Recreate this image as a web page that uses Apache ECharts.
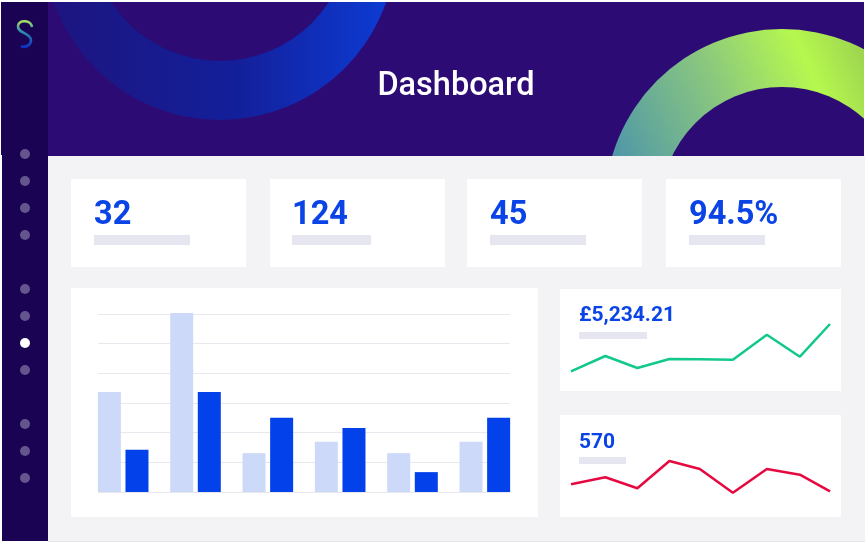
<!DOCTYPE html>
<html>
<head>
<meta charset="utf-8">
<title>Dashboard</title>
<script src="https://cdn.jsdelivr.net/npm/echarts@6/dist/echarts.min.js"></script>
<style>
html, body { margin: 0; padding: 0; background: #fff; }
#main { width: 865px; height: 542px; }
</style>
</head>
<body>
<div id="main"></div>
<script>
// chart data
var barCategories = ['A', 'B', 'C', 'D', 'E', 'F'];
var barLight = [33.7, 60.3, 13.1, 16.9, 13.1, 16.9];
var barDark = [14.2, 33.7, 25, 21.6, 6.7, 25];

var lineX = [0, 10.6, 20.5, 30.4, 39.8, 50, 60.5, 70.7, 80];
var lineGreen = [8.7, 24, 12, 21, 20.7, 20.3, 45.3, 23.3, 56];
var lineRed = [25.7, 32.7, 21.7, 49, 41, 17.3, 41, 35.3, 18.7];

var kpiLabels = ['32', '124', '45', '94.5%'];
var lineLabels = ['£5,234.21', '570'];
var titleText = 'Dashboard';
var dotRows = [154, 181, 208, 235, 289, 316, 343, 370, 424, 451, 478];
var activeDot = 343;

var FONT = 'Roboto, sans-serif';
var BLUE = '#0a43e6';
var BAR_GREY = '#e6e6f0';
var HEADER = '#2d0b75';

function rect(x, y, w, h, fill, z) {
	return { type: 'rect', silent: true, z: z, shape: { x: x, y: y, width: w, height: h }, style: { fill: fill } };
}

function circle(cx, cy, r, fill, z) {
	return { type: 'circle', silent: true, z: z, shape: { cx: cx, cy: cy, r: r }, style: { fill: fill } };
}

function label(text, x, y, size, weight, color, align) {
	return {
		type: 'text', silent: true, z: 1, x: x, y: y,
		style: { text: text, fill: color, font: weight + ' ' + size + 'px ' + FONT, textAlign: align || 'left', textVerticalAlign: 'middle' }
	};
}

// background pieces
var elements = [
	rect(48, 2, 816, 154, HEADER, -20)
];

// header arcs, each one is a circle with a header coloured hole
elements.push(circle(220, -56, 176, new echarts.graphic.LinearGradient(53, 0, 386, 0, [
	{ offset: 0, color: '#1d1580' },
	{ offset: 0.55, color: '#131f9a' },
	{ offset: 1, color: '#0d3bd2' }
], true), -19));
elements.push(circle(220, -69, 130, HEADER, -18));
elements.push(circle(782, 206, 177, new echarts.graphic.LinearGradient(620, 170, 864, 60, [
	{ offset: 0, color: '#4f97a8' },
	{ offset: 0.45, color: '#8ac77f' },
	{ offset: 0.8, color: '#b6f84e' },
	{ offset: 1, color: '#9ed650' }
], true), -19));
elements.push(circle(782, 209, 122, HEADER, -18));

// cover what spills out of the header
elements.push(rect(48, 156, 817, 385, '#f3f3f6', -17));
elements.push(rect(0, 0, 865, 2, '#ffffff', -17));
elements.push(rect(864, 0, 1, 156, '#ffffff', -17));

// sidebar
elements.push(rect(1, 2, 47, 153, '#1b0354', -16));
elements.push(rect(2, 155, 46, 386, '#1b0354', -16));
elements.push(rect(48, 541, 817, 1, '#e4e5ea', -16));

dotRows.forEach(function(y) {
	elements.push(circle(25, y, 5, y == activeDot ? '#ffffff' : '#65558e', -15));
});

// logo, three curve pieces sharing one gradient
var logoGradient = new echarts.graphic.LinearGradient(0, 20, 0, 48, [
	{ offset: 0, color: '#b6e85a' },
	{ offset: 0.4, color: '#2f8fb0' },
	{ offset: 1, color: '#0b2fc8' }
], true);
var logoCurves = [
	[32, 27, 31, 20, 19, 19, 18, 26],
	[18, 26, 17, 33, 31, 33, 31, 40],
	[31, 40, 31, 46, 24, 48, 21, 46]
];
logoCurves.forEach(function(c) {
	elements.push({
		type: 'bezierCurve', silent: true, z: -15,
		shape: { x1: c[0], y1: c[1], cpx1: c[2], cpy1: c[3], cpx2: c[4], cpy2: c[5], x2: c[6], y2: c[7] },
		style: { fill: 'none', stroke: logoGradient, lineWidth: 2.6 }
	});
});

// cards: card left, text left, grey bar width
var kpiCards = [[71, 94, 96], [270, 292, 79], [467, 490, 96], [666, 689, 76]];
kpiCards.forEach(function(c, i) {
	elements.push(rect(c[0], 179, 175, 88, '#ffffff', -14));
	elements.push(rect(c[1], 235, c[2], 10, BAR_GREY, -13));
	elements.push(label(kpiLabels[i], c[1], 216, 32.5, 700, BLUE));
});
elements.push(rect(71, 288, 467, 229, '#ffffff', -14));
elements.push(rect(560, 289, 281, 102, '#ffffff', -14));
elements.push(rect(560, 415, 281, 102, '#ffffff', -14));
elements.push(rect(579, 332, 68, 7, BAR_GREY, -13));
elements.push(rect(579, 457, 47, 7, BAR_GREY, -13));
elements.push(label(lineLabels[0], 579, 316, 21, 700, BLUE));
elements.push(label(lineLabels[1], 579, 443, 21, 700, BLUE));
elements.push(label(titleText, 456, 87, 32.5, 500, '#ffffff', 'center'));

function hiddenValueAxis(idx, min, max) {
	return { type: 'value', gridIndex: idx, min: min, max: max, show: false };
}

var option = {
	animation: false,
	graphic: { elements: elements },
	grid: [
		{ left: 87, width: 434, top: 314, height: 178 },   // bars
		{ left: 98, width: 412, top: 314, height: 178 },   // grid lines
		{ left: 571, width: 259, top: 320, height: 60 },   // green line
		{ left: 571, width: 259, top: 450, height: 60 }    // red line
	],
	xAxis: [
		{ type: 'category', gridIndex: 0, data: barCategories, show: false },
		{ type: 'value', gridIndex: 1, min: 0, max: 1, show: false },
		{ type: 'value', gridIndex: 2, min: 0, max: 80, show: false },
		{ type: 'value', gridIndex: 3, min: 0, max: 80, show: false }
	],
	yAxis: [
		hiddenValueAxis(0, 0, 60),
		{
			type: 'value', gridIndex: 1, min: 0, max: 60, interval: 10,
			axisLine: { show: false }, axisTick: { show: false }, axisLabel: { show: false },
			splitLine: { show: true, lineStyle: { color: '#e8e8ee', width: 1 } }
		},
		hiddenValueAxis(2, 0, 60),
		hiddenValueAxis(3, 0, 60)
	],
	series: [
		{
			type: 'bar', xAxisIndex: 0, yAxisIndex: 0, data: barLight, clip: false,
			barWidth: 23, barGap: '20%', itemStyle: { color: '#ccd9f8' }
		},
		{
			type: 'bar', xAxisIndex: 0, yAxisIndex: 0, data: barDark, clip: false,
			barWidth: 23, barGap: '20%', itemStyle: { color: '#0342eb' }
		},
		{
			type: 'line', xAxisIndex: 2, yAxisIndex: 2, showSymbol: false,
			data: lineX.map(function(x, i) { return [x, lineGreen[i]]; }),
			lineStyle: { color: '#12c98a', width: 2.5 }
		},
		{
			type: 'line', xAxisIndex: 3, yAxisIndex: 3, showSymbol: false,
			data: lineX.map(function(x, i) { return [x, lineRed[i]]; }),
			lineStyle: { color: '#e5093f', width: 2.5 }
		}
	]
};

var myChart = echarts.init(document.getElementById('main'));
myChart.setOption(option);
</script>
</body>
</html>
